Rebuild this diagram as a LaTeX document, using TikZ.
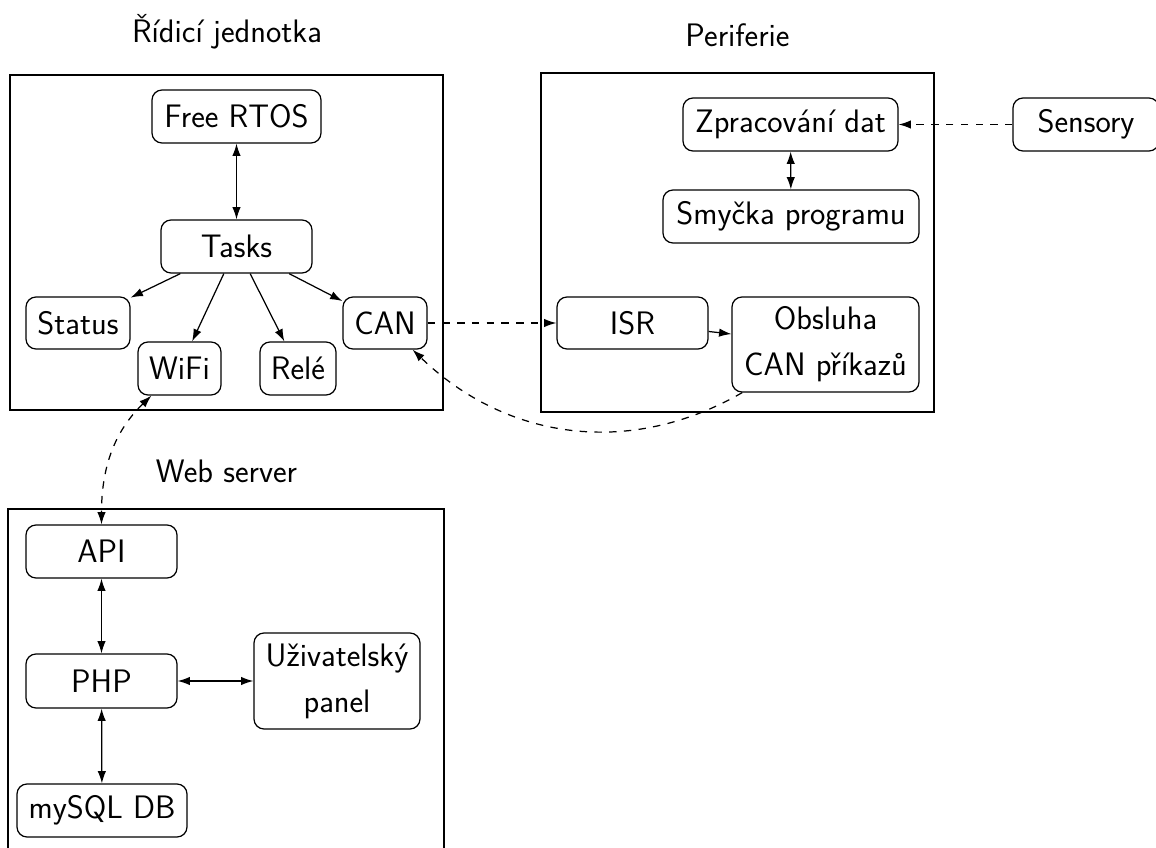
\documentclass[tikz,border=0pt]{standalone}
\usepackage{fontspec}
\usetikzlibrary{arrows.meta}
\begin{document}
\begin{tikzpicture}[x=0.02cm,y=0.02cm,
  every node/.style={font=\sffamily\fontsize{18.5}{26.2}\selectfont},
  box/.style={draw,rounded corners=5.7pt,inner sep=0pt,align=center,line width=0.7pt},
  sz/.style 2 args={minimum width=#1*0.02cm,minimum height=#2*0.02cm},
  frame/.style={draw,line width=0.7pt},
  arr/.style={line width=0.7pt,-{Latex[length=7pt,width=4.8pt]}},
  darr/.style={line width=0.7pt,{Latex[length=7pt,width=4.8pt]}-{Latex[length=7pt,width=4.8pt]}},
  dsh/.style={dash pattern=on 4.2pt off 4.2pt},
  ttl/.style={anchor=base,inner sep=0pt}]
\useasboundingbox (0,0) rectangle (1156,-848);
\begin{scope}
\clip (0,0) rectangle (1156,-848);
% titles
\node[ttl] (t1) at (227,-42.7) {Řídicí jednotka};
\node[ttl] (t2) at (737.5,-46.7) {Periferie};
\node[ttl] (t3) at (226.5,-482) {Web server};
% frames
\draw[frame] (10,-75) rectangle (443,-410);
\draw[frame] (541,-73) rectangle (934,-412);
\draw[frame] (8,-509) rectangle (444,-880);
% control unit
\node[box,sz={169}{53}] (frtos) at (236.5,-116.5) {Free RTOS};
\node[box,sz={151}{53}] (tasks) at (236.5,-246.5) {Tasks};
\node[box,sz={104}{52}] (status) at (78,-323) {Status};
\node[box,sz={83}{53}] (wifi) at (179.5,-368.5) {WiFi};
\node[box,sz={76}{53}] (rele) at (298,-368.5) {Relé};
\node[box,sz={84}{52}] (can) at (385,-323) {CAN};
% peripherals
\node[box,sz={215}{53}] (zpr) at (790.5,-124.5) {Zpracování dat};
\node[box,sz={256}{53}] (smy) at (791,-216.5) {Smyčka programu};
\node[box,sz={151}{52}] (isr) at (632.5,-323) {ISR};
\node[box,sz={187}{95}] (obs) at (825.5,-344.5) {Obsluha\\CAN příkazů};
\node[box,sz={146}{53}] (sens) at (1086,-124.5) {Sensory};
% web server
\node[box,sz={151}{53}] (api) at (101.5,-551.5) {API};
\node[box,sz={151}{54}] (php) at (101.5,-681) {PHP};
\node[box,sz={166}{96}] (uziv) at (337,-681) {Uživatelský\\panel};
\node[box,sz={170}{53}] (sql) at (102,-810.5) {mySQL DB};
% connectors
\draw[darr] (frtos) -- (tasks);
\draw[arr] (tasks) -- (status);
\draw[arr] (tasks) -- (wifi);
\draw[arr] (tasks) -- (rele);
\draw[arr] (tasks) -- (can);
\draw[arr,dsh] (can) -- (isr);
\draw[arr] (isr) -- (obs);
\draw[darr] (zpr) -- (smy);
\draw[arr,dsh] (sens) -- (zpr);
\draw[arr,dsh] (obs) to[out=210,in=-44] (can);
\draw[darr,dsh] (wifi) to[out=224,in=90] (api);
\draw[darr] (api) -- (php);
\draw[darr] (php) -- (uziv);
\draw[darr] (php) -- (sql);
\end{scope}
\end{tikzpicture}
\end{document}
